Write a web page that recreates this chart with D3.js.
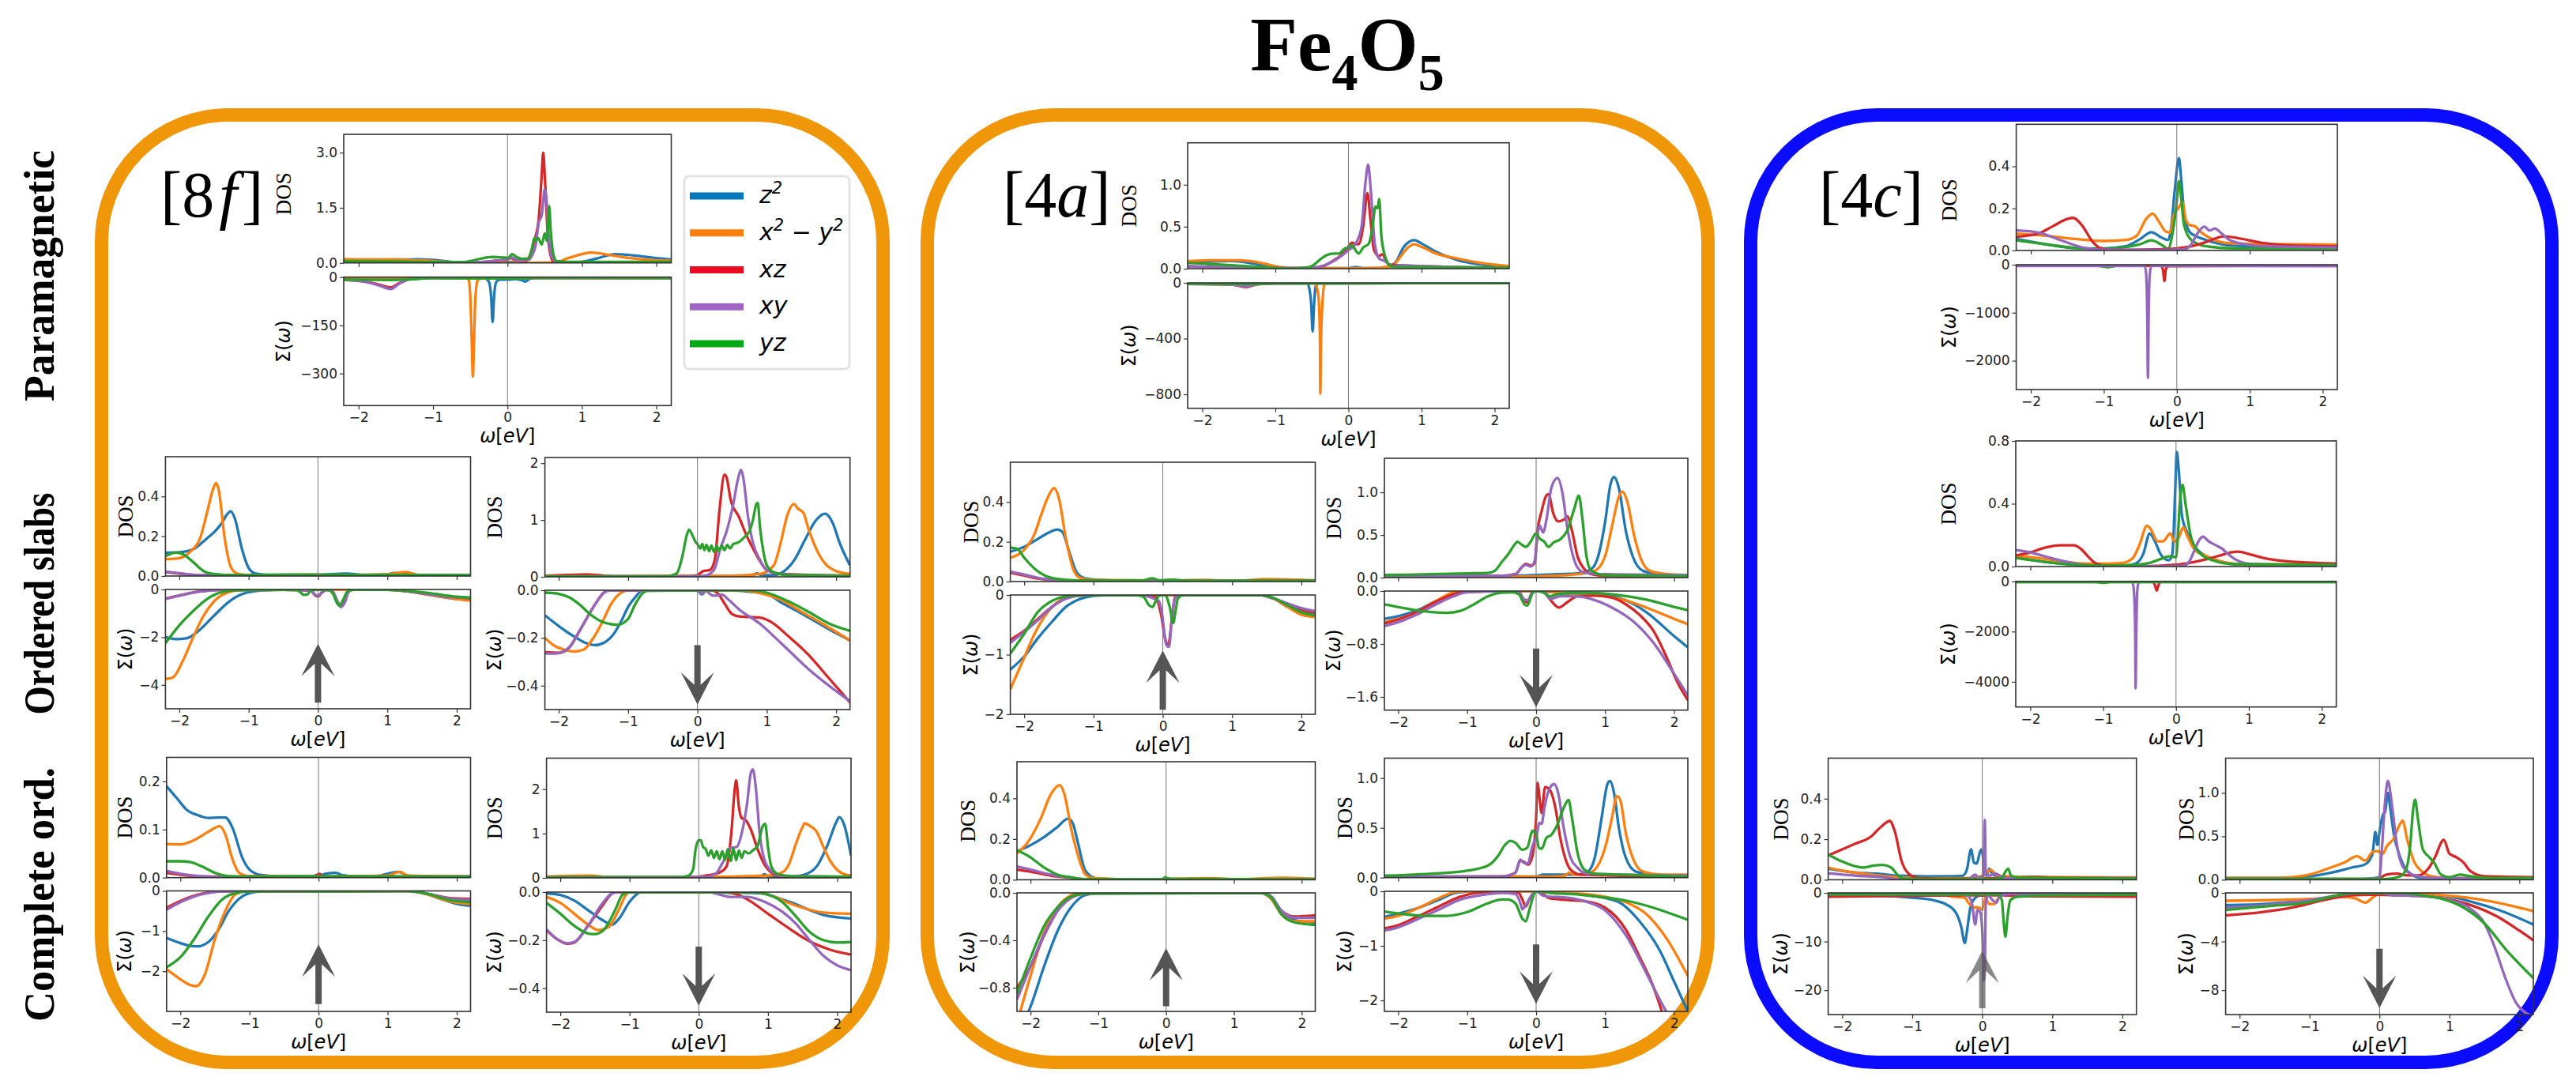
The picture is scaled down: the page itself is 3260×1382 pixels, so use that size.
<!DOCTYPE html>
<html>
<head>
<meta charset="utf-8">
<title>Fe4O5</title>
<script src="https://cdn.jsdelivr.net/npm/d3@7"></script>
<style>
  html, body { margin: 0; padding: 0; background: #fff; }
  svg { display: block; }
  .tick text { font-family: "DejaVu Sans"; font-size: 17px; fill: #222; }
  .tick line { stroke: #333; stroke-width: 1.2; }
</style>
</head>
<body>
<svg id="chart" width="3260" height="1382"></svg>
<script>
// Every panel lists its curves in the order z2, x2-y2, xz, xy, yz as [omega, value]
const orbitals = ['z²', 'x²−y²', 'xz', 'xy', 'yz'];
const lineColors = ['#1f77b4', '#ff7f0e', '#d62728', '#9467bd', '#2ca02c'];
const legendColors = ['#0077b8', '#ff7f0e', '#ec0a22', '#a064c4', '#00a814'];
const rowLabels = ['Paramagnetic', 'Ordered slabs', 'Complete ord.'];

// ---- [8f] ----
const dos8fPara = [
  [[-2.2,.07],[-1.5,.09],[-1.2,.1],[-1,.08],[-.7,.02],[-.5,0],[0,.02],[.3,0],[.7,0],[1,.03],[1.2,.12],[1.45,.24],[1.6,.22],[2,.13],[2.2,.09]],
  [[-2.2,.1],[-1.5,.09],[-1,.05],[-.7,.01],[-.5,0],[.3,0],[.65,.01],[.8,.12],[1,.24],[1.12,.28],[1.3,.24],[1.6,.14],[2,.07],[2.2,.06]],
  [[-2.2,.03],[-1,.01],[-.5,.01],[-.2,.05],[0,.1],[.05,.13],[.1,.08],[.25,.05],[.3,.2],[.36,.6],[.42,1.2],[.46,2.4],[.48,3],[.5,2.4],[.54,.8],[.58,.2],[.62,.03],[.8,.01],[2.2,.02]],
  [[-2.2,.02],[-.6,.01],[-.3,.03],[-.1,.07],[0,.1],[.05,.15],[.15,.06],[.28,.08],[.33,.2],[.38,.5],[.42,1.1],[.46,1.3],[.5,2],[.52,1.8],[.55,.8],[.6,.15],[.66,.03],[.9,.02],[2.2,.02]],
  [[-2.2,.05],[-1.5,.04],[-1,.02],[-.6,.02],[-.5,.05],[-.35,.12],[-.2,.16],[0,.14],[.02,.15],[.06,.24],[.12,.16],[.2,.11],[.28,.12],[.33,.4],[.36,.68],[.38,.6],[.41,.68],[.46,.5],[.5,.8],[.53,.6],[.56,1.55],[.58,.9],[.62,.2],[.66,.05],[.8,.03],[2.2,.03]]
];
const sig8fPara = [
  [[-2.2,-1],[-1,-2],[-.3,-4],[-.25,-15],[-.22,-60],[-.2,-140],[-.18,-60],[-.15,-15],[-.1,-8],[0,-8],[.1,-6],[.2,-10],[.24,-14],[.3,-5],[.4,-1],[2.2,-1]],
  [[-2.2,-1],[-1,-1],[-.55,-2],[-.52,-10],[-.5,-60],[-.48,-200],[-.465,-310],[-.45,-200],[-.43,-60],[-.4,-10],[-.35,-2],[-.2,-1],[2.2,-3]],
  [[-2.2,-8],[-1.9,-14],[-1.7,-25],[-1.57,-32],[-1.45,-18],[-1.3,-5],[-1,-3],[2.2,-3]],
  [[-2.2,-9],[-1.9,-15],[-1.7,-28],[-1.57,-37],[-1.45,-20],[-1.3,-6],[-1,-3],[2.2,-3]],
  [[-2.2,-8],[-1.6,-9],[-1.3,-7],[-1,-3],[-.5,-4],[.2,-4],[.4,-2],[2.2,-3]]
];
const dos8fOrdUp = [
  [[-2.2,.118],[-2,.12],[-1.8,.135],[-1.6,.19],[-1.5,.22],[-1.4,.26],[-1.3,.315],[-1.26,.325],[-1.2,.29],[-1.1,.14],[-1,.04],[-.9,.012],[-.7,.005],[0,.006],[.4,.012],[.7,.005],[1,.008],[1.1,.015],[1.3,.012],[1.45,.005],[2.2,.004]],
  [[-2.2,.085],[-2,.09],[-1.85,.12],[-1.7,.19],[-1.6,.32],[-1.5,.45],[-1.47,.467],[-1.43,.43],[-1.35,.2],[-1.25,.04],[-1.15,.01],[-1,.005],[0,.006],[.5,.005],[1,.008],[1.27,.02],[1.45,.005],[2.2,.004]],
  [[-2.2,.02],[-2,.012],[-1.7,.004],[-1,.003],[2.2,.003]],
  [[-2.2,.022],[-2,.014],[-1.7,.005],[-1,.003],[2.2,.003]],
  [[-2.2,.1],[-2.05,.118],[-1.95,.11],[-1.8,.07],[-1.65,.025],[-1.5,.01],[-1.2,.004],[-.5,.007],[2.2,.005]]
];
const sig8fOrdUp = [
  [[-2.2,-2],[-2.05,-2.08],[-1.9,-2.05],[-1.75,-1.8],[-1.5,-1.1],[-1.3,-.55],[-1.1,-.2],[-.8,-.04],[-.5,-.01],[1,-.01],[1.3,-.08],[1.6,-.22],[2,-.4],[2.2,-.42]],
  [[-2.2,-3.75],[-2.1,-3.7],[-1.95,-3],[-1.8,-2],[-1.65,-1.1],[-1.5,-.5],[-1.3,-.12],[-1.1,-.02],[1,-.01],[1.3,-.08],[1.6,-.22],[2,-.4],[2.2,-.47]],
  [[-2.2,-.38],[-2,-.25],[-1.7,-.08],[-1.4,-.02],[-.5,-.01],[-.1,-.05],[-.05,-.22],[0,-.3],[.05,-.15],[.12,-.02],[.2,-.05],[.28,-.5],[.33,-.72],[.38,-.55],[.44,-.1],[.5,-.01],[1,-.01],[1.3,-.08],[1.6,-.2],[2,-.33],[2.2,-.37]],
  [[-2.2,-.4],[-2,-.26],[-1.7,-.09],[-1.4,-.02],[-.5,-.01],[-.1,-.04],[-.05,-.2],[0,-.27],[.05,-.13],[.12,-.02],[.2,-.05],[.28,-.5],[.33,-.74],[.38,-.58],[.44,-.1],[.5,-.01],[1,-.01],[1.3,-.08],[1.6,-.2],[2,-.33],[2.2,-.37]],
  [[-2.2,-2.25],[-2,-1.5],[-1.8,-.9],[-1.6,-.4],[-1.4,-.12],[-1.2,-.04],[-.5,-.01],[-.3,-.03],[-.2,-.23],[-.15,-.2],[-.1,-.04],[0,-.01],[.15,-.02],[.22,-.2],[.28,-.6],[.31,-.67],[.36,-.45],[.42,-.1],[.5,-.01],[1,-.01],[1.3,-.06],[1.6,-.15],[2,-.3],[2.2,-.34]]
];
const dos8fOrdDn = [
  [[-2.2,.01],[-.5,.01],[.5,.01],[.8,.03],[.86,.06],[.92,.03],[1.1,.03],[1.25,.1],[1.4,.3],[1.55,.65],[1.7,.98],[1.84,1.11],[1.95,.95],[2.05,.6],[2.2,.2]],
  [[-2.2,.02],[-1.6,.04],[-1.2,.01],[0,.02],[.5,.02],[.9,.05],[1.1,.2],[1.2,.6],[1.3,1.1],[1.39,1.28],[1.45,1.2],[1.53,1.12],[1.6,.85],[1.75,.4],[1.85,.22],[2,.1],[2.2,.05]],
  [[-2.2,.01],[-1.6,.04],[-1.2,.01],[-.1,.01],[0,.03],[.08,.1],[.18,.12],[.25,.3],[.32,1.2],[.39,1.8],[.42,1.75],[.48,1.35],[.6,1.05],[.7,.75],[.8,.5],[.9,.28],[1,.12],[1.2,.05],[2.2,.02]],
  [[-2.2,.01],[0,.01],[.1,.02],[.2,.07],[.25,.15],[.33,.5],[.42,.8],[.52,1.3],[.58,1.7],[.63,1.88],[.66,1.75],[.73,1.05],[.8,.6],[.9,.3],[1,.12],[1.2,.05],[1.5,.03],[2.2,.02]],
  [[-2.2,.01],[-1,.01],[-.45,.01],[-.3,.06],[-.22,.35],[-.15,.75],[-.12,.83],[-.08,.75],[-.02,.6],[0,.58],[.04,.5],[.07,.58],[.1,.47],[.13,.56],[.17,.45],[.2,.55],[.24,.44],[.28,.54],[.31,.45],[.35,.55],[.39,.47],[.43,.56],[.47,.5],[.52,.58],[.58,.6],[.68,.7],[.75,.8],[.8,1],[.85,1.28],[.87,1.3],[.9,.9],[.95,.45],[1,.2],[1.1,.08],[1.3,.03],[2.2,.02]]
];
const sig8fOrdDn = [
  [[-2.2,-.105],[-2,-.15],[-1.8,-.19],[-1.6,-.222],[-1.48,-.23],[-1.35,-.22],[-1.2,-.18],[-1.1,-.13],[-1,-.07],[-.9,-.03],[-.8,-.003],[0,0],[.06,-.018],[.12,0],[.5,0],[.7,-.005],[1,-.015],[1.2,-.05],[1.5,-.097],[2,-.18],[2.2,-.21]],
  [[-2.2,-.2],[-2.05,-.235],[-1.9,-.25],[-1.8,-.257],[-1.65,-.25],[-1.5,-.2],[-1.35,-.12],[-1.25,-.06],[-1.1,-.01],[-1,0],[.6,0],[.9,-.012],[1.2,-.04],[1.5,-.09],[1.8,-.14],[2.2,-.21]],
  [[-2.2,-.26],[-2,-.262],[-1.85,-.24],[-1.7,-.17],[-1.5,-.07],[-1.35,-.01],[-1.3,0],[.2,0],[.3,-.015],[.4,-.06],[.5,-.1],[.6,-.11],[.9,-.115],[1.1,-.14],[1.3,-.19],[1.6,-.27],[1.9,-.37],[2.2,-.47]],
  [[-2.2,-.265],[-2.05,-.265],[-1.85,-.24],[-1.7,-.17],[-1.5,-.07],[-1.35,-.01],[-1.25,0],[0,0],[.05,-.012],[.08,-.015],[.12,-.002],[.2,-.02],[.25,-.023],[.35,-.018],[.45,-.04],[.6,-.08],[.9,-.14],[1.2,-.22],[1.6,-.33],[2.2,-.465]],
  [[-2.2,-.01],[-2,-.015],[-1.85,-.03],[-1.7,-.06],[-1.55,-.1],[-1.35,-.135],[-1.15,-.145],[-1,-.12],[-.9,-.06],[-.8,-.015],[-.7,0],[.8,0],[1,-.01],[1.3,-.045],[1.6,-.09],[1.9,-.14],[2.2,-.17]]
];
const dos8fCompUp = [
  [[-2.2,.19],[-2.05,.165],[-1.9,.14],[-1.75,.13],[-1.6,.124],[-1.45,.125],[-1.35,.125],[-1.25,.105],[-1.1,.04],[-1,.017],[-.85,.006],[-.5,.002],[0,.003],[.1,.008],[.25,.01],[.35,.005],[.5,.003],[.8,.002],[1,.008],[1.15,.012],[1.3,.004],[1.5,.002],[2.2,.002]],
  [[-2.2,.07],[-2,.069],[-1.8,.078],[-1.6,.095],[-1.43,.107],[-1.35,.09],[-1.25,.04],[-1.15,.01],[-1,.003],[0,.002],[1,.004],[1.17,.012],[1.3,.004],[2.2,.002]],
  [[-2.2,.01],[-2,.006],[-1.7,.002],[-.1,.002],[.02,.008],[.06,.002],[2.2,.002]],
  [[-2.2,.014],[-2,.008],[-1.7,.003],[-1.3,.001],[2.2,.002]],
  [[-2.2,.034],[-2,.034],[-1.85,.032],[-1.7,.024],[-1.5,.01],[-1.3,.003],[-1,.002],[-.4,.003],[2.2,.002]]
];
const sig8fCompUp = [
  [[-2.2,-1.17],[-2,-1.3],[-1.85,-1.37],[-1.75,-1.38],[-1.6,-1.28],[-1.45,-.97],[-1.3,-.5],[-1.1,-.13],[-.9,-.02],[-.7,0],[1.3,0],[1.5,-.04],[1.7,-.16],[2,-.32],[2.2,-.37]],
  [[-2.2,-1.95],[-2,-2.2],[-1.85,-2.35],[-1.77,-2.37],[-1.65,-2.1],[-1.5,-1.2],[-1.35,-.5],[-1.2,-.08],[-1.05,-.01],[1.3,0],[1.6,-.1],[1.9,-.26],[2.2,-.33]],
  [[-2.2,-.42],[-2,-.25],[-1.8,-.12],[-1.6,-.04],[-1.4,-.01],[1.3,0],[1.6,-.08],[1.9,-.18],[2.2,-.2]],
  [[-2.2,-.47],[-2,-.28],[-1.8,-.14],[-1.6,-.05],[-1.4,-.01],[1.3,0],[1.6,-.08],[1.9,-.19],[2.2,-.22]],
  [[-2.2,-1.9],[-2,-1.65],[-1.8,-1.2],[-1.6,-.65],[-1.4,-.22],[-1.2,-.05],[-1,-.01],[-.3,0],[-.1,-.01],[1.3,0],[1.6,-.08],[1.9,-.23],[2.2,-.28]]
];
const dos8fCompDn = [
  [[-2.2,.01],[.5,.01],[.9,.04],[.95,.08],[1,.04],[1.3,.02],[1.5,.06],[1.7,.25],[1.85,.7],[2,1.3],[2.03,1.37],[2.1,1.2],[2.2,.5]],
  [[-2.2,.03],[-1.6,.05],[-1.2,.01],[.5,.03],[1,.05],[1.2,.12],[1.3,.3],[1.4,.75],[1.5,1.15],[1.53,1.23],[1.6,1.18],[1.7,1.05],[1.8,.7],[1.9,.38],[2.05,.12],[2.2,.05]],
  [[-2.2,.01],[-.1,.01],[.1,.05],[.3,.12],[.4,.25],[.47,1],[.52,2],[.54,2.2],[.58,1.6],[.62,1.35],[.68,1.3],[.75,1.1],[.85,.65],[.95,.3],[1.05,.12],[1.2,.04],[2.2,.02]],
  [[-2.2,.01],[.1,.02],[.25,.1],[.33,.3],[.4,.5],[.45,.67],[.55,.7],[.62,1],[.7,1.7],[.75,2.35],[.78,2.45],[.82,2.1],[.88,1],[.95,.4],[1.05,.15],[1.2,.05],[2.2,.02]],
  [[-2.2,.01],[-.3,.01],[-.15,.05],[-.08,.2],[-.05,.6],[0,.85],[.03,.85],[.06,.7],[.1,.65],[.14,.5],[.18,.62],[.22,.45],[.26,.6],[.3,.42],[.34,.6],[.38,.4],[.42,.65],[.46,.38],[.5,.66],[.54,.4],[.58,.62],[.62,.45],[.66,.6],[.72,.55],[.78,.62],[.85,.72],[.92,1.15],[.96,1.22],[1,.7],[1.05,.25],[1.15,.08],[1.4,.03],[2.2,.03]]
];
const sig8fCompDn = [
  [[-2.2,-.005],[-2,-.012],[-1.8,-.035],[-1.6,-.075],[-1.4,-.115],[-1.25,-.135],[-1.15,-.11],[-1,-.04],[-.9,-.01],[-.85,0],[.2,0],[.4,-.002],[.9,-.005],[1.2,-.03],[1.4,-.05],[1.6,-.075],[1.8,-.095],[2.2,-.11]],
  [[-2.2,-.02],[-2,-.045],[-1.8,-.09],[-1.6,-.135],[-1.45,-.158],[-1.3,-.145],[-1.15,-.07],[-1.05,-.01],[-1,0],[.8,0],[1.1,-.02],[1.3,-.045],[1.5,-.065],[1.8,-.085],[2.2,-.09]],
  [[-2.2,-.16],[-2.05,-.195],[-1.9,-.215],[-1.8,-.21],[-1.6,-.14],[-1.4,-.06],[-1.25,-.005],[-1.2,0],[.3,0],[.5,-.005],[.7,-.03],[1,-.09],[1.3,-.15],[1.6,-.205],[1.9,-.24],[2.2,-.26]],
  [[-2.2,-.155],[-2.05,-.195],[-1.9,-.213],[-1.8,-.208],[-1.6,-.14],[-1.4,-.05],[-1.25,-.005],[-1.15,0],[.15,0],[.3,-.01],[.45,-.02],[.7,-.02],[.95,-.04],[1.2,-.08],[1.4,-.13],[1.6,-.2],[1.8,-.265],[2,-.305],[2.2,-.325]],
  [[-2.2,-.045],[-2,-.09],[-1.8,-.14],[-1.6,-.172],[-1.5,-.175],[-1.35,-.15],[-1.2,-.07],[-1.1,-.01],[-1,0],[.8,0],[1,-.01],[1.2,-.04],[1.4,-.1],[1.6,-.165],[1.8,-.2],[2,-.21],[2.2,-.208]]
];

// ---- [4a] ----
const dos4aPara = [
  [[-2.2,.07],[-1.6,.09],[-1.3,.06],[-1,.01],[-.8,.005],[0,.005],[.1,.02],[.2,.005],[.45,.005],[.55,.02],[.65,.08],[.75,.25],[.85,.33],[.9,.34],[1,.3],[1.2,.2],[1.5,.1],[1.8,.05],[2.2,.01]],
  [[-2.2,.09],[-1.9,.1],[-1.5,.1],[-1.2,.07],[-.95,.02],[-.8,.005],[0,.005],[.4,.01],[.5,.02],[.6,.03],[.7,.13],[.8,.24],[.9,.29],[1,.26],[1.2,.18],[1.5,.12],[1.8,.07],[2.2,.03]],
  [[-2.2,.03],[-1.5,.01],[-.6,.005],[-.35,.03],[-.2,.1],[-.05,.2],[.05,.31],[.1,.29],[.15,.3],[.2,.5],[.26,.9],[.3,.6],[.35,.22],[.42,.15],[.46,.17],[.55,.05],[.7,.04],[1,.03],[2.2,.01]],
  [[-2.2,.03],[-1,.005],[-.5,.01],[-.3,.05],[-.15,.12],[0,.22],[.1,.3],[.18,.5],[.23,1],[.27,1.24],[.3,1],[.36,.3],[.42,.12],[.5,.09],[.6,.03],[.7,.04],[1,.03],[2.2,.01]],
  [[-2.2,.07],[-1.6,.04],[-1.2,.02],[-.8,0],[-.6,.01],[-.5,.03],[-.4,.1],[-.3,.16],[-.2,.18],[-.13,.18],[-.05,.24],[0,.25],[.04,.28],[.14,.18],[.2,.25],[.28,.3],[.33,.5],[.37,.74],[.4,.72],[.42,.83],[.45,.4],[.5,.15],[.58,.03],[.7,.02],[2.2,.01]]
];
const sig4aPara = [
  [[-2.2,-3],[-.56,-3],[-.54,-30],[-.51,-150],[-.49,-350],[-.47,-150],[-.45,-30],[-.42,-3],[2.2,-2]],
  [[-2.2,-2],[-.48,-2],[-.45,-10],[-.41,-100],[-.39,-400],[-.385,-795],[-.375,-400],[-.35,-100],[-.33,-10],[-.3,-2],[2.2,-2]],
  [[-2.2,-8],[-1.6,-12],[-1.4,-30],[-1.25,-10],[-1,-3],[2.2,-2]],
  [[-2.2,-8],[-1.6,-12],[-1.4,-25],[-1.25,-10],[-1,-3],[2.2,-2]],
  [[-2.2,-6],[-1.6,-8],[-1.2,-8],[-1,-3],[.1,-3],[2.2,-2]]
];
const dos4aOrdUp = [
  [[-2.2,.15],[-2,.175],[-1.8,.215],[-1.65,.245],[-1.52,.262],[-1.45,.25],[-1.35,.15],[-1.25,.05],[-1.15,.02],[-1,.01],[-.5,.004],[2.2,.004]],
  [[-2.2,.12],[-2,.16],[-1.85,.24],[-1.75,.34],[-1.65,.43],[-1.57,.47],[-1.5,.42],[-1.4,.22],[-1.3,.07],[-1.2,.02],[-1,.008],[0,.005],[.6,.008],[1,.003],[1.5,.012],[2.2,.006]],
  [[-2.2,.045],[-2,.03],[-1.8,.015],[-1.5,.006],[-1,.003],[2.2,.003]],
  [[-2.2,.05],[-2,.035],[-1.8,.018],[-1.5,.007],[-1,.003],[2.2,.003]],
  [[-2.2,.17],[-2.1,.165],[-2,.12],[-1.85,.065],[-1.7,.03],[-1.5,.012],[-1.2,.005],[-.3,.005],[-.15,.016],[-.05,.006],[.15,.01],[.3,.005],[2.2,.004]]
];
const sig4aOrdUp = [
  [[-2.2,-1.25],[-2,-1.03],[-1.8,-.72],[-1.6,-.45],[-1.4,-.2],[-1.2,-.07],[-1,-.015],[-.7,0],[1.4,0],[1.6,-.06],[1.8,-.2],[2,-.3],[2.2,-.33]],
  [[-2.2,-1.58],[-2,-1.05],[-1.85,-.65],[-1.7,-.35],[-1.5,-.1],[-1.3,-.02],[-1.1,0],[1.4,0],[1.6,-.06],[1.8,-.2],[2,-.33],[2.2,-.37]],
  [[-2.2,-.75],[-2,-.6],[-1.8,-.4],[-1.6,-.2],[-1.4,-.06],[-1.2,-.01],[-1,0],[-.3,0],[-.18,-.03],[-.1,-.04],[-.03,-.3],[.05,-.8],[.08,-.83],[.14,-.3],[.18,-.02],[.25,0],[1.4,0],[1.6,-.06],[2,-.25],[2.2,-.3]],
  [[-2.2,-.8],[-2,-.62],[-1.8,-.42],[-1.6,-.2],[-1.4,-.06],[-1.2,-.01],[-1,0],[-.3,0],[-.15,-.05],[-.06,-.1],[-.02,-.25],[.05,-.83],[.09,-.87],[.13,-.4],[.18,-.05],[.25,0],[1.4,0],[1.6,-.06],[2,-.22],[2.2,-.27]],
  [[-2.2,-.98],[-2,-.65],[-1.8,-.28],[-1.6,-.1],[-1.4,-.02],[-1.2,0],[-.4,0],[-.28,-.03],[-.2,-.17],[-.15,-.2],[-.1,-.1],[-.05,-.01],[.03,0],[.1,-.2],[.15,-.47],[.18,-.3],[.22,-.05],[.3,0],[1.4,0],[1.6,-.05],[1.8,-.17],[2,-.29],[2.2,-.34]]
];
const dos4aOrdDn = [
  [[-2.2,.02],[-.5,.02],[0,.03],[.3,.04],[.6,.05],[.8,.1],[.9,.25],[1,.65],[1.08,1.1],[1.13,1.18],[1.2,1.05],[1.3,.55],[1.4,.25],[1.55,.08],[1.8,.04],[2.2,.02]],
  [[-2.2,.01],[-.5,.01],[.2,.02],[.6,.04],[.85,.08],[1,.25],[1.1,.6],[1.2,.95],[1.25,1.01],[1.32,.9],[1.42,.5],[1.52,.22],[1.65,.08],[1.9,.04],[2.2,.03]],
  [[-2.2,.01],[-.5,.02],[-.3,.04],[-.2,.13],[-.15,.16],[-.08,.14],[-.02,.17],[.02,.55],[.08,.78],[.14,.95],[.18,.98],[.25,.75],[.32,.66],[.4,.68],[.45,.72],[.52,.55],[.6,.25],[.7,.1],[.8,.04],[1,.02],[2.2,.01]],
  [[-2.2,.01],[-.5,.02],[-.3,.04],[-.2,.13],[-.15,.15],[-.08,.13],[-.02,.2],[.02,.5],[.05,.61],[.1,.53],[.15,.68],[.22,1.05],[.31,1.17],[.38,1],[.45,.6],[.52,.3],[.6,.12],[.7,.06],[1,.04],[2.2,.03]],
  [[-2.2,.03],[-1.5,.04],[-1,.05],[-.7,.055],[-.6,.08],[-.5,.18],[-.4,.28],[-.3,.4],[-.27,.42],[-.2,.38],[-.15,.36],[-.08,.42],[0,.52],[.05,.46],[.12,.42],[.18,.36],[.25,.41],[.35,.45],[.45,.55],[.55,.8],[.62,.96],[.67,.7],[.73,.25],[.8,.08],[1,.03],[2.2,.02]]
];
const sig4aOrdDn = [
  [[-2.2,-.42],[-2,-.38],[-1.7,-.28],[-1.45,-.15],[-1.2,-.04],[-1,-.005],[-.4,0],[0,0],[.5,-.04],[1,-.06],[1.3,-.14],[1.6,-.32],[2,-.68],[2.2,-.85]],
  [[-2.2,-.47],[-2,-.42],[-1.7,-.3],[-1.45,-.15],[-1.2,-.02],[-1.05,0],[0,0],[.5,-.04],[1,-.08],[1.3,-.14],[1.6,-.25],[2,-.42],[2.2,-.5]],
  [[-2.2,-.49],[-2,-.43],[-1.7,-.3],[-1.45,-.16],[-1.2,-.05],[-1,-.01],[-.4,0],[-.25,-.01],[-.17,-.15],[-.12,-.17],[-.05,-.01],[0,0],[.1,0],[.22,-.15],[.33,-.25],[.45,-.17],[.6,-.08],[.85,-.07],[1.1,-.1],[1.3,-.2],[1.5,-.36],[1.7,-.6],[1.9,-1.02],[2.05,-1.38],[2.2,-1.65]],
  [[-2.2,-.53],[-2,-.47],[-1.7,-.34],[-1.45,-.2],[-1.2,-.08],[-1,-.02],[-.5,-.005],[-.25,-.02],[-.17,-.13],[-.12,-.14],[-.05,-.01],[.05,0],[.12,-.02],[.2,-.12],[.35,-.08],[.55,-.08],[.8,-.12],[1.1,-.25],[1.4,-.45],[1.7,-.78],[2,-1.25],[2.2,-1.58]],
  [[-2.2,-.2],[-1.9,-.26],[-1.6,-.31],[-1.3,-.33],[-1.1,-.3],[-.9,-.2],[-.7,-.08],[-.5,-.025],[-.35,-.02],[-.25,-.05],[-.17,-.2],[-.13,-.22],[-.05,-.03],[0,0],[.1,-.02],[.2,-.08],[.3,-.05],[.5,-.03],[.8,-.03],[1.2,-.06],[1.6,-.13],[2,-.24],[2.2,-.29]]
];
const dos4aCompUp = [
  [[-2.2,.14],[-2,.17],[-1.8,.21],[-1.6,.26],[-1.45,.3],[-1.38,.28],[-1.3,.18],[-1.2,.05],[-1.1,.015],[-1,.005],[-.5,.002],[2.2,.002]],
  [[-2.2,.13],[-2.05,.18],[-1.85,.3],[-1.7,.42],[-1.57,.465],[-1.5,.42],[-1.4,.25],[-1.3,.12],[-1.2,.03],[-1.1,.01],[-.5,.002],[.7,.008],[1,.002],[1.7,.01],[2.2,.005]],
  [[-2.2,.05],[-2,.04],[-1.7,.02],[-1.4,.01],[-1.2,.003],[2.2,.002]],
  [[-2.2,.065],[-2,.05],[-1.7,.025],[-1.4,.01],[-1.2,.003],[2.2,.002]],
  [[-2.2,.145],[-2,.11],[-1.8,.06],[-1.6,.025],[-1.4,.012],[-1.2,.003],[-.5,.002],[-.05,.002],[-.02,.012],[.05,.005],[.3,.004],[2.2,.002]]
];
const sig4aCompUp = [
  [[-2.2,-1.2],[-2,-.96],[-1.8,-.62],[-1.6,-.32],[-1.4,-.12],[-1.2,-.02],[-1,0],[1.4,0],[1.55,-.05],[1.7,-.17],[1.9,-.23],[2.2,-.25]],
  [[-2.2,-1.1],[-2,-.7],[-1.8,-.33],[-1.6,-.12],[-1.4,-.02],[-1.25,0],[1.4,0],[1.55,-.05],[1.7,-.18],[1.9,-.24],[2.2,-.24]],
  [[-2.2,-.8],[-2,-.62],[-1.8,-.36],[-1.6,-.15],[-1.4,-.04],[-1.2,-.005],[-1,0],[1.4,0],[1.55,-.03],[1.7,-.15],[1.9,-.2],[2.2,-.19]],
  [[-2.2,-.9],[-2,-.62],[-1.8,-.35],[-1.6,-.15],[-1.4,-.04],[-1.2,-.005],[1.4,0],[1.55,-.03],[1.7,-.15],[1.9,-.21],[2.2,-.21]],
  [[-2.2,-.85],[-2,-.55],[-1.8,-.28],[-1.6,-.12],[-1.4,-.03],[-1.2,-.005],[1.4,0],[1.55,-.04],[1.7,-.18],[1.9,-.25],[2.2,-.27]]
];
const dos4aCompDn = [
  [[-2.2,.01],[-.5,.01],[0,.01],[.1,.03],[.3,.03],[.6,.03],[.75,.06],[.85,.2],[.95,.6],[1.03,.93],[1.07,.97],[1.13,.85],[1.2,.5],[1.3,.2],[1.45,.06],[1.7,.03],[2.2,.02]],
  [[-2.2,.01],[.2,.01],[.42,.02],[.48,.05],[.55,.03],[.7,.03],[.85,.08],[1,.3],[1.1,.6],[1.17,.82],[1.22,.78],[1.3,.45],[1.4,.2],[1.55,.06],[1.8,.03],[2.2,.03]],
  [[-2.2,.005],[-.5,.01],[-.3,.05],[-.23,.17],[-.18,.16],[-.12,.13],[-.06,.2],[-.02,.4],[0,.6],[.02,.95],[.05,.8],[.08,.65],[.13,.91],[.2,.88],[.28,.7],[.35,.4],[.42,.2],[.5,.08],[.65,.03],[2.2,.01]],
  [[-2.2,.01],[-.5,.01],[-.3,.05],[-.23,.18],[-.18,.15],[-.12,.14],[-.06,.3],[-.03,.36],[0,.4],[.05,.55],[.08,.54],[.12,.7],[.18,.87],[.26,.94],[.32,.85],[.4,.5],[.5,.2],[.6,.1],[.75,.04],[2.2,.02]],
  [[-2.2,.02],[-1.5,.04],[-1,.07],[-.7,.12],[-.55,.22],[-.45,.33],[-.37,.37],[-.3,.35],[-.2,.28],[-.13,.3],[-.05,.47],[0,.44],[.04,.3],[.08,.29],[.15,.4],[.22,.43],[.3,.52],[.4,.7],[.47,.78],[.52,.6],[.6,.25],[.7,.08],[.85,.04],[1.2,.03],[2.2,.01]]
];
const sig4aCompDn = [
  [[-2.2,-.47],[-2,-.41],[-1.7,-.3],[-1.4,-.15],[-1.2,-.04],[-1,-.005],[-.3,0],[0,0],[.5,-.04],[.8,-.08],[1.2,-.2],[1.5,-.55],[1.8,-1.1],[2,-1.65],[2.2,-2.2]],
  [[-2.2,-.5],[-2,-.45],[-1.7,-.3],[-1.4,-.12],[-1.2,-.02],[-1,0],[0,0],[.5,-.03],[.9,-.08],[1.3,-.2],[1.6,-.42],[1.9,-.88],[2.2,-1.55]],
  [[-2.2,-.68],[-2,-.62],[-1.7,-.45],[-1.4,-.27],[-1.1,-.1],[-.8,-.02],[-.4,0],[-.25,-.03],[-.2,-.15],[-.15,-.28],[-.1,-.15],[-.03,-.02],[.02,0],[.1,-.05],[.18,-.12],[.35,-.15],[.7,-.18],[1,-.3],[1.3,-.7],[1.5,-1.2],[1.7,-1.75],[1.85,-2.3]],
  [[-2.2,-.72],[-2,-.66],[-1.7,-.5],[-1.4,-.33],[-1.1,-.15],[-.8,-.07],[-.5,-.03],[-.3,-.05],[-.22,-.25],[-.2,-.33],[-.15,-.25],[-.05,-.05],[0,0],[.1,-.08],[.2,-.1],[.4,-.11],[.7,-.18],[1,-.35],[1.3,-.8],[1.6,-1.5],[1.8,-2],[1.93,-2.3]],
  [[-2.2,-.37],[-1.9,-.42],[-1.6,-.45],[-1.3,-.45],[-1,-.38],[-.7,-.22],[-.5,-.15],[-.42,-.15],[-.3,-.22],[-.2,-.5],[-.15,-.55],[-.1,-.35],[-.03,-.05],[0,0],[.2,-.03],[.5,-.05],[.9,-.1],[1.3,-.17],[1.7,-.3],[2,-.43],[2.2,-.52]]
];

// ---- [4c] ----
const dos4cPara = [
  [[-2.2,.055],[-1.8,.03],[-1.4,.012],[-1,.01],[-.7,.02],[-.5,.055],[-.35,.087],[-.2,.06],[-.12,.05],[-.08,.1],[-.03,.28],[.03,.44],[.06,.34],[.1,.18],[.17,.09],[.25,.07],[.4,.05],[.7,.025],[1,.02],[2.2,.015]],
  [[-2.2,.08],[-1.8,.07],[-1.4,.055],[-1,.045],[-.7,.05],[-.55,.07],[-.42,.15],[-.33,.175],[-.25,.14],[-.15,.09],[-.09,.085],[-.04,.17],[.02,.2],[.08,.23],[.12,.15],[.18,.12],[.25,.115],[.32,.09],[.45,.06],[.7,.035],[1.2,.03],[2.2,.028]],
  [[-2.2,.065],[-1.9,.08],[-1.7,.115],[-1.5,.15],[-1.42,.155],[-1.3,.12],[-1.15,.04],[-1.05,.012],[-.9,.003],[-.3,.005],[0,.01],[.2,.02],[.4,.04],[.55,.06],[.65,.067],[.85,.058],[1.2,.035],[1.5,.025],[2.2,.02]],
  [[-2.2,.095],[-1.9,.085],[-1.6,.05],[-1.3,.015],[-1,.003],[-.2,.002],[.1,.005],[.2,.03],[.28,.08],[.38,.113],[.45,.095],[.52,.105],[.6,.085],[.7,.055],[.85,.035],[1.2,.02],[2.2,.015]],
  [[-2.2,.048],[-1.8,.03],[-1.4,.012],[-1.1,.008],[-.8,.012],[-.5,.03],[-.35,.048],[-.2,.025],[-.12,.008],[-.05,.1],[-.01,.2],[.03,.33],[.06,.25],[.1,.12],[.2,.05],[.4,.02],[.8,.01],[2.2,.008]]
];
const sig4cPara = [
  [[-2.2,-15],[2.2,-15]],
  [[-2.2,-20],[2.2,-15]],
  [[-2.2,-20],[-.22,-20],[-.19,-100],[-.17,-340],[-.15,-100],[-.12,-30],[2.2,-15]],
  [[-2.2,-25],[-.44,-25],[-.42,-200],[-.405,-1000],[-.395,-2360],[-.385,-1000],[-.37,-200],[-.35,-25],[2.2,-30]],
  [[-2.2,-15],[-1.1,-20],[-.95,-50],[-.8,-20],[2.2,-10]]
];
const dos4cOrd = [
  [[-2.2,.06],[-1.8,.03],[-1.4,.012],[-1,.004],[-.7,.005],[-.55,.02],[-.45,.08],[-.36,.21],[-.3,.17],[-.2,.07],[-.1,.04],[-.05,.08],[-.01,.5],[.01,.73],[.04,.6],[.08,.33],[.15,.22],[.25,.13],[.4,.07],[.6,.035],[.8,.015],[1.2,.01],[2.2,.01]],
  [[-2.2,.07],[-1.9,.055],[-1.6,.035],[-1.3,.02],[-1,.018],[-.75,.022],[-.6,.05],[-.5,.14],[-.4,.26],[-.35,.24],[-.25,.16],[-.18,.16],[-.08,.21],[-.02,.16],[.02,.17],[.06,.21],[.1,.25],[.15,.2],[.25,.11],[.4,.07],[.6,.035],[.9,.015],[2.2,.012]],
  [[-2.2,.07],[-2,.09],[-1.8,.12],[-1.6,.135],[-1.4,.135],[-1.3,.11],[-1.2,.06],[-1.1,.02],[-.95,.005],[-.5,.002],[0,.012],[.2,.025],[.4,.045],[.6,.07],[.75,.09],[.85,.095],[1,.08],[1.2,.055],[1.5,.035],[2.2,.02]],
  [[-2.2,.105],[-2,.09],[-1.8,.065],[-1.5,.03],[-1.2,.008],[-.9,.002],[0,.002],[.1,.005],[.18,.03],[.25,.1],[.32,.17],[.37,.19],[.45,.16],[.55,.135],[.63,.115],[.7,.085],[.8,.05],[1,.018],[1.5,.01],[2.2,.008]],
  [[-2.2,.055],[-1.8,.03],[-1.4,.012],[-1,.005],[-.6,.01],[-.35,.025],[-.2,.05],[-.1,.065],[0,.06],[.02,.15],[.06,.45],[.09,.52],[.13,.4],[.2,.2],[.3,.1],[.5,.04],[.8,.015],[2.2,.01]]
];
const sig4cOrd = [
  [[-2.2,-20],[2.2,-20]],
  [[-2.2,-20],[2.2,-20]],
  [[-2.2,-20],[-.32,-20],[-.29,-150],[-.265,-370],[-.24,-150],[-.21,-20],[2.2,-20]],
  [[-2.2,-30],[-.6,-30],[-.58,-300],[-.56,-2000],[-.555,-4260],[-.545,-2000],[-.53,-300],[-.51,-30],[2.2,-30]],
  [[-2.2,-30],[-1.1,-30],[-1,-60],[-.9,-30],[2.2,-25]]
];
const dos4cCompUp = [
  [[-2.2,.055],[-1.8,.035],[-1.5,.03],[-1.2,.02],[-.8,.017],[-.4,.018],[-.28,.02],[-.22,.05],[-.16,.15],[-.12,.085],[-.08,.08],[-.03,.14],[-.01,.15],[.03,.05],[.06,.02],[.1,.055],[.14,.03],[.2,.02],[.5,.012],[2.2,.008]],
  [[-2.2,.06],[-2,.045],[-1.7,.03],[-1.3,.015],[-.8,.008],[-.4,.008],[-.1,.01],[0,.02],[.05,.03],[.12,.05],[.17,.035],[.22,.02],[.5,.015],[2.2,.01]],
  [[-2.2,.12],[-2,.15],[-1.8,.18],[-1.6,.21],[-1.45,.26],[-1.32,.29],[-1.25,.24],[-1.15,.09],[-1.05,.03],[-.9,.008],[-.5,.005],[.5,.01],[.75,.015],[1,.01],[2.2,.008]],
  [[-2.2,.032],[-1.8,.02],[-1.4,.012],[-1.2,.003],[-.2,.003],[-.1,.025],[-.05,.01],[.02,.02],[.035,.295],[.05,.03],[.1,.02],[.18,.03],[.23,.025],[.3,.008],[2.2,.005]],
  [[-2.2,.125],[-2,.09],[-1.8,.065],[-1.7,.06],[-1.55,.07],[-1.42,.073],[-1.3,.06],[-1.2,.02],[-1.1,.005],[-.5,.003],[.1,.003],[.28,.008],[.33,.04],[.37,.055],[.41,.02],[.5,.012],[.8,.01],[2.2,.005]]
];
const sig4cCompUp = [
  [[-2.2,-.5],[-1.5,-.6],[-1,-1],[-.7,-1.5],[-.5,-2.5],[-.38,-4],[-.3,-7],[-.25,-10.3],[-.22,-8],[-.17,-3],[-.1,-1],[-.03,-.5],[.05,-.6],[.12,-.1],[.2,-.2],[2.2,-.3]],
  [[-2.2,-.2],[-.6,-.4],[-.4,-.8],[-.25,-1],[-.2,-2],[-.12,-3],[-.05,-3],[0,-3.5],[.04,-1],[.1,-2.3],[.17,-2.3],[.25,-.7],[.35,-.3],[2.2,-.3]],
  [[-2.2,-.8],[-1,-.6],[-.3,-.5],[.3,-.5],[.6,-.7],[2.2,-.8]],
  [[-2.2,-.3],[-.3,-.3],[-.2,-.7],[-.15,-2],[-.1,-6.5],[-.07,-3.5],[-.03,-4],[0,-8],[.02,-18],[.035,-16],[.05,-2],[.08,-.6],[.15,-1.5],[.2,-2],[.25,-.7],[.4,-.2],[2.2,-.2]],
  [[-2.2,-.3],[.22,-.3],[.28,-1.5],[.3,-5],[.33,-9],[.36,-5],[.4,-1.5],[.5,-.8],[1,-.5],[2.2,-.4]]
];
const dos4cCompDn = [
  [[-2.2,.02],[-1.5,.02],[-1,.04],[-.7,.08],[-.4,.14],[-.2,.18],[-.1,.3],[-.06,.55],[-.03,.4],[0,.55],[.05,.75],[.08,.78],[.12,1],[.15,.85],[.2,.55],[.3,.25],[.4,.1],[.6,.02],[2.2,.01]],
  [[-2.2,.02],[-1.5,.02],[-1,.06],[-.7,.14],[-.5,.2],[-.32,.27],[-.2,.22],[-.1,.32],[-.03,.33],[.05,.3],[.1,.38],[.2,.47],[.3,.65],[.33,.68],[.4,.45],[.5,.2],[.6,.1],[.75,.04],[1,.02],[2.2,.02]],
  [[-2.2,.01],[-.2,.01],[0,.02],[.1,.06],[.25,.07],[.4,.05],[.55,.05],[.7,.13],[.8,.27],[.9,.45],[.92,.46],[1,.3],[1.1,.26],[1.2,.2],[1.3,.1],[1.5,.04],[2.2,.03]],
  [[-2.2,.01],[-.2,.01],[0,.03],[.03,.3],[.08,.9],[.12,1.14],[.18,.85],[.25,.4],[.35,.13],[.5,.05],[.8,.02],[2.2,.01]],
  [[-2.2,.01],[.1,.01],[.3,.04],[.38,.12],[.44,.4],[.48,.8],[.51,.92],[.55,.7],[.62,.35],[.7,.27],[.78,.2],[.88,.06],[1,.03],[1.15,.06],[1.3,.04],[1.6,.02],[2.2,.02]]
];
const sig4cCompDn = [
  [[-2.2,-1],[-1.6,-.9],[-1,-.6],[-.5,-.2],[-.2,-.05],[.3,0],[.7,-.1],[1,-.3],[1.3,-.7],[1.7,-1.4],[2.2,-2.6]],
  [[-2.2,-.65],[-1.6,-.6],[-1,-.5],[-.5,-.35],[-.35,-.45],[-.2,-.8],[-.1,-.4],[0,-.05],[.4,-.05],[.8,-.15],[1.2,-.35],[1.6,-.7],[2.2,-1.5]],
  [[-2.2,-1.85],[-1.7,-1.6],[-1.2,-1.15],[-.8,-.6],[-.4,-.2],[-.1,-.15],[.3,-.2],[.7,-.3],[1,-.55],[1.3,-1],[1.7,-2],[2,-3.1],[2.2,-3.9]],
  [[-2.2,-1.2],[-1.6,-1],[-1,-.6],[-.6,-.2],[-.3,0],[0,0],[.2,-.2],[.6,-.25],[1,-.6],[1.3,-1.3],[1.5,-2.5],[1.65,-4.5],[1.8,-7],[1.95,-9],[2.1,-9.9],[2.2,-10.1]],
  [[-2.2,-1.4],[-1.6,-1.1],[-1,-.75],[-.6,-.2],[-.4,-.03],[.3,0],[.6,-.2],[.9,-.5],[1.2,-1.2],[1.5,-2.5],[1.8,-4.6],[2.2,-7]]
];

const omegaTicks = [-2, -1, 0, 1, 2];
const omegaRange = [-2.2, 2.2];
const normalOrder = [0, 1, 2, 3, 4];

// layout of the 14 panels: pixel frames, value domains, ticks, and the spin arrow in Sigma units
const panels = [
  { x: [435, 849.5], dosY: [170, 332.7], sigY: [350.7, 513.3], off: 76, dosDy: -6, dosMax: 3.5, sigMin: -400, dosT: [0, 1.5, 3], sigT: [0, -150, -300], dosF: '.1f', sigF: 'd', dos: dos8fPara, sig: sig8fPara },
  { x: [209.4, 595.5], dosY: [578, 729], sigY: [746, 897], off: 51, dosMax: .6, sigMin: -5, dosT: [0, .2, .4], sigT: [0, -2, -4], dosF: '.1f', sigF: 'd', dos: dos8fOrdUp, sig: sig8fOrdUp, arrow: [-4.74, -2.28] },
  { x: [689.6, 1075.7], dosY: [579, 730], sigY: [747, 898], off: 64, dosMax: 2.1, sigMin: -.5, dosT: [0, 1, 2], sigT: [0, -.2, -.4], dosF: 'd', sigF: '.1f', dos: dos8fOrdDn, sig: sig8fOrdDn, arrow: [-.23, -.479] },
  { x: [210.8, 595.5], dosY: [958.5, 1110.7], sigY: [1127.5, 1280], off: 53, dosMax: .25, sigMin: -3, dosT: [0, .1, .2], sigT: [0, -1, -2], dosF: '.1f', sigF: 'd', dos: dos8fCompUp, sig: sig8fCompUp, arrow: [-2.82, -1.335] },
  { x: [691.6, 1077], dosY: [959.5, 1111], sigY: [1129, 1281], off: 66, dosMax: 2.7, sigMin: -.5, dosT: [0, 1, 2], sigT: [0, -.2, -.4], dosF: 'd', sigF: '.1f', dos: dos8fCompDn, sig: sig8fCompDn, arrow: [-.227, -.473] },

  { x: [1503, 1910], dosY: [180.7, 340], sigY: [358, 516.7], off: 74, dosMax: 1.5, sigMin: -900, dosT: [0, .5, 1], sigT: [0, -400, -800], dosF: '.1f', sigF: 'd', dos: dos4aPara, sig: sig4aPara },
  { x: [1278.6, 1664.5], dosY: [585, 736], sigY: [753, 904], off: 50, dosMax: .6, sigMin: -2, dosT: [0, .2, .4], sigT: [0, -1, -2], dosF: '.1f', sigF: 'd', dos: dos4aOrdUp, sig: sig4aOrdUp, arrow: [-1.925, -.93] },
  { x: [1752, 2136], dosY: [580, 731], sigY: [748, 898.7], off: 64, dosMax: 1.4, sigMin: -1.8, dosT: [0, .5, 1], sigT: [0, -.8, -1.6], dosF: '.1f', sigF: '.1f', dos: dos4aOrdDn, sig: sig4aOrdDn, arrow: [-.868, -1.757] },
  { x: [1287, 1664.5], dosY: [964, 1113.4], sigY: [1130, 1280], off: 62, dosMax: .58, sigMin: -1, dosT: [0, .2, .4], sigT: [0, -.4, -.8], dosF: '.1f', sigF: '.1f', dos: dos4aCompUp, sig: sig4aCompUp, arrow: [-.957, -.466] },
  { x: [1752, 2136], dosY: [959.5, 1110.7], sigY: [1128, 1280], off: 50, dosMax: 1.2, sigMin: -2.2, dosT: [0, .5, 1], sigT: [0, -1, -2], dosF: '.1f', sigF: 'd', dos: dos4aCompDn, sig: sig4aCompDn, arrow: [-.973, -2.06] },

  { x: [2551.6, 2958], dosY: [157.3, 317], sigY: [335, 493], off: 85, dosDy: 16, dosMax: .6, sigMin: -2600, dosT: [0, .2, .4], sigT: [0, -1000, -2000], dosF: '.1f', sigF: 'd', dos: dos4cPara, sig: sig4cPara, order: [0, 1, 4, 2, 3] },
  { x: [2551, 2956.6], dosY: [558, 717], sigY: [735.7, 894.7], off: 85, dosMax: .8, sigMin: -5000, dosT: [0, .4, .8], sigT: [0, -2000, -4000], dosF: '.1f', sigF: 'd', dos: dos4cOrd, sig: sig4cOrd },
  { x: [2313.6, 2703.7], dosY: [959.5, 1113.4], sigY: [1130, 1284], off: 60, dosMax: .6, sigMin: -25, dosT: [0, .2, .4], sigT: [0, -10, -20], dosF: '.1f', sigF: 'd', dos: dos4cCompUp, sig: sig4cCompUp, arrow: [-23.7, -11.9], faded: true },
  { x: [2816.6, 3206], dosY: [959.5, 1113.4], sigY: [1130, 1284], off: 50, dosMax: 1.4, sigMin: -10, dosT: [0, .5, 1], sigT: [0, -4, -8], dosF: '.1f', sigF: 'd', dos: dos4cCompDn, sig: sig4cCompDn, arrow: [-4.6, -9.47] }
];

const svg = d3.select('#chart');
let clipCount = 0;

function fmt(spec) {
  const f = d3.format(spec);
  return d => f(d).replace('-', '−');
}

// one axes box: curves clipped to the frame, zero line, spine, ticks
function drawAxes(x, yPix, domain, ticks, tickSpec, series, order, showX) {
  const y = d3.scaleLinear().domain(domain).range([yPix[1], yPix[0]]);
  const id = 'clip' + (clipCount++);
  svg.append('clipPath').attr('id', id).append('rect')
    .attr('x', x.range()[0]).attr('y', yPix[0])
    .attr('width', x.range()[1] - x.range()[0]).attr('height', yPix[1] - yPix[0]);

  const line = d3.line().x(d => x(d[0])).y(d => y(d[1])).curve(d3.curveMonotoneX);
  const g = svg.append('g').attr('clip-path', `url(#${id})`);
  order.forEach(i => {
    g.append('path').datum(series[i]).attr('d', line)
      .attr('fill', 'none').attr('stroke', lineColors[i])
      .attr('stroke-width', 3.3).attr('stroke-linejoin', 'round');
  });

  svg.append('line')
    .attr('x1', x(0)).attr('x2', x(0)).attr('y1', yPix[0]).attr('y2', yPix[1])
    .attr('stroke', '#777').attr('stroke-width', 1);

  const axX = d3.axisBottom(x).tickValues(omegaTicks).tickSize(5).tickPadding(4)
    .tickFormat(showX ? fmt('d') : '');
  const axY = d3.axisLeft(y).tickValues(ticks).tickSize(5).tickPadding(3).tickFormat(fmt(tickSpec));
  [svg.append('g').attr('transform', `translate(0,${yPix[1]})`).call(axX),
   svg.append('g').attr('transform', `translate(${x.range()[0]},0)`).call(axY)]
    .forEach(a => a.select('.domain').remove());

  svg.append('rect')
    .attr('x', x.range()[0]).attr('y', yPix[0])
    .attr('width', x.range()[1] - x.range()[0]).attr('height', yPix[1] - yPix[0])
    .attr('fill', 'none').attr('stroke', '#333').attr('stroke-width', 1.6);
  return y;
}

function yLabel(px, py) {
  return svg.append('text').attr('text-anchor', 'middle')
    .attr('transform', `translate(${px},${py}) rotate(-90)`).attr('dy', '0.35em');
}

function drawArrow(x0, yTail, yTip, faded) {
  const dir = yTail > yTip ? 1 : -1;
  const shaft = 4, barb = 21, headLen = 41, notch = 25;
  const p = d3.path();
  p.moveTo(x0, yTip);
  p.lineTo(x0 + barb, yTip + dir * headLen);
  p.lineTo(x0 + shaft, yTip + dir * notch);
  p.lineTo(x0 + shaft, yTail);
  p.lineTo(x0 - shaft, yTail);
  p.lineTo(x0 - shaft, yTip + dir * notch);
  p.lineTo(x0 - barb, yTip + dir * headLen);
  p.closePath();
  svg.append('path').attr('d', p.toString()).attr('fill', '#555').attr('opacity', faded ? .7 : 1);
}

function drawPanel(panel) {
  const x = d3.scaleLinear().domain(omegaRange).range(panel.x);
  const order = panel.order || normalOrder;
  drawAxes(x, panel.dosY, [0, panel.dosMax], panel.dosT, panel.dosF, panel.dos, order, false);
  const ySig = drawAxes(x, panel.sigY, [panel.sigMin, 0], panel.sigT, panel.sigF, panel.sig, order, true);

  const left = panel.x[0] - panel.off;
  yLabel(left, (panel.dosY[0] + panel.dosY[1]) / 2 + (panel.dosDy || 0)).text('DOS')
    .attr('font-family', 'Liberation Serif').attr('font-size', 27);
  const sl = yLabel(left, (panel.sigY[0] + panel.sigY[1]) / 2)
    .attr('font-family', 'DejaVu Sans').attr('font-size', 24);
  sl.append('tspan').text('Σ(');
  sl.append('tspan').attr('font-style', 'italic').text('ω');
  sl.append('tspan').text(')');

  const xl = svg.append('text').attr('text-anchor', 'middle')
    .attr('x', x(0)).attr('y', panel.sigY[1] + 47)
    .attr('font-family', 'DejaVu Sans').attr('font-size', 24);
  xl.append('tspan').attr('font-style', 'italic').text('ω');
  xl.append('tspan').text('[');
  xl.append('tspan').attr('font-style', 'italic').text('eV');
  xl.append('tspan').text(']');

  if (panel.arrow) drawArrow(x(0), ySig(panel.arrow[0]), ySig(panel.arrow[1]), panel.faded);
}

// rounded site frames
[[120, 1126, '#ef9708'], [1165, 2170, '#ef9708'], [2207, 3238, '#0b0bff']].forEach(b => {
  svg.append('rect')
    .attr('x', b[0] + 8.5).attr('y', 145.5)
    .attr('width', b[1] - b[0] - 17).attr('height', 1199)
    .attr('rx', 160).attr('ry', 160)
    .attr('fill', 'none').attr('stroke', b[2]).attr('stroke-width', 17);
});

panels.forEach(drawPanel);

// title
const title = svg.append('text').attr('text-anchor', 'middle').attr('x', 1705).attr('y', 89)
  .attr('font-family', 'Liberation Serif').attr('font-weight', 'bold').attr('font-size', 98);
title.append('tspan').text('Fe');
title.append('tspan').attr('font-size', 66).attr('dy', 25).text('4');
title.append('tspan').attr('dy', -25).text('O');
title.append('tspan').attr('font-size', 66).attr('dy', 25).text('5');

// row titles
[[349, 318], [764, 281], [1132, 322]].forEach((r, i) => {
  svg.append('text').attr('text-anchor', 'middle')
    .attr('transform', `translate(68,${r[0]}) rotate(-90)`)
    .attr('textLength', r[1]).attr('lengthAdjust', 'spacingAndGlyphs')
    .attr('font-family', 'Liberation Serif').attr('font-weight', 'bold').attr('font-size', 54)
    .text(rowLabels[i]);
});

// site labels
[[203, '8', 'f', 6], [1269, '4', 'a', 0], [2302, '4', 'c', 0]].forEach(s => {
  const t = svg.append('text').attr('x', s[0]).attr('y', 274)
    .attr('font-family', 'Liberation Serif').attr('font-size', 82);
  t.append('tspan').text('[' + s[1]);
  t.append('tspan').attr('font-style', 'italic').attr('dx', s[3]).text(s[2]);
  t.append('tspan').attr('dx', s[3]).text(']');
});

// legend
svg.append('rect').attr('x', 866).attr('y', 223).attr('width', 209).attr('height', 244)
  .attr('rx', 6).attr('fill', '#fff').attr('stroke', '#e3e3e3').attr('stroke-width', 3);
const legendY = d3.scalePoint().domain(orbitals).range([248, 435]);
orbitals.forEach((name, i) => {
  const yy = legendY(name);
  svg.append('line').attr('x1', 873).attr('x2', 941).attr('y1', yy).attr('y2', yy)
    .attr('stroke', legendColors[i]).attr('stroke-width', 9);
  const t = svg.append('text').attr('x', 961).attr('y', yy + 9)
    .attr('font-family', 'DejaVu Sans').attr('font-style', 'italic').attr('font-size', 30);
  let supDy = 0;
  name.split(/(²)/).forEach(part => {
    if (part === '²') {
      t.append('tspan').attr('font-size', 21).attr('dy', -12).text('2');
      supDy = 12;
    } else if (part) {
      t.append('tspan').attr('dy', supDy).text(part.replace('−', ' − '));
      supDy = 0;
    }
  });
});
</script>
</body>
</html>
